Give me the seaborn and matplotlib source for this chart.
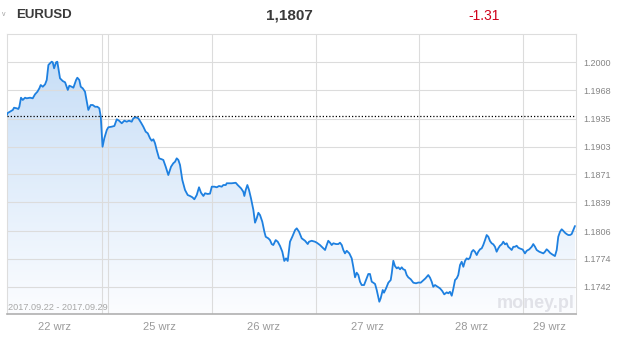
import numpy as np
import pandas as pd
import matplotlib
matplotlib.use("Agg")
import matplotlib.pyplot as plt
import seaborn as sns
from matplotlib.colors import LinearSegmentedColormap

# ---------------- data ----------------
# time in trading days on a compressed axis (22 Sep session ends at 1.0, weekend squeezed)
t = [0.086, 0.089, 0.115, 0.142, 0.154, 0.180, 0.195, 0.205, 0.221, 0.238, 0.260, 0.276,
     0.308, 0.334, 0.356, 0.379, 0.398, 0.411, 0.431, 0.453, 0.469, 0.485, 0.501, 0.517,
     0.527, 0.540, 0.559, 0.571, 0.581, 0.597, 0.623, 0.646, 0.672, 0.687, 0.710, 0.726,
     0.752, 0.764, 0.783, 0.797, 0.816, 0.838, 0.855, 0.870, 0.893, 0.913, 0.935, 0.957,
     0.976, 0.990, 1.007, 1.024, 1.048, 1.063, 1.096, 1.121, 1.144, 1.166, 1.192, 1.217,
     1.240, 1.262, 1.288, 1.304, 1.327, 1.352, 1.378, 1.400, 1.423, 1.443, 1.465, 1.481,
     1.497, 1.513, 1.529, 1.552, 1.578, 1.593, 1.616, 1.641, 1.667, 1.689, 1.706, 1.722,
     1.738, 1.754, 1.776, 1.802, 1.828, 1.850, 1.873, 1.892, 1.915, 1.937, 1.956, 1.979,
     1.995, 2.021, 2.043, 2.060, 2.085, 2.108, 2.130, 2.156, 2.171, 2.195, 2.204, 2.252,
     2.291, 2.310, 2.342, 2.364, 2.374, 2.387, 2.403, 2.419, 2.438, 2.461, 2.477, 2.493,
     2.509, 2.525, 2.547, 2.567, 2.580, 2.605, 2.621, 2.638, 2.653, 2.676, 2.696, 2.718,
     2.740, 2.759, 2.776, 2.792, 2.814, 2.836, 2.863, 2.879, 2.901, 2.927, 2.959, 2.985,
     2.997, 3.023, 3.055, 3.072, 3.103, 3.135, 3.152, 3.168, 3.183, 3.200, 3.216, 3.232,
     3.258, 3.280, 3.296, 3.313, 3.328, 3.344, 3.361, 3.386, 3.409, 3.424, 3.441, 3.457,
     3.473, 3.489, 3.505, 3.528, 3.547, 3.569, 3.585, 3.602, 3.617, 3.634, 3.650, 3.675,
     3.688, 3.708, 3.720, 3.740, 3.762, 3.785, 3.795, 3.810, 3.826, 3.843, 3.858, 3.875,
     3.891, 3.906, 3.923, 3.939, 3.954, 3.978, 4.003, 4.029, 4.051, 4.074, 4.099, 4.120,
     4.147, 4.164, 4.180, 4.195, 4.212, 4.238, 4.260, 4.282, 4.301, 4.325, 4.340, 4.356,
     4.373, 4.388, 4.405, 4.421, 4.436, 4.453, 4.469, 4.485, 4.501, 4.517, 4.533, 4.549,
     4.566, 4.581, 4.597, 4.614, 4.629, 4.646, 4.662, 4.677, 4.694, 4.710, 4.726, 4.742,
     4.758, 4.774, 4.790, 4.806, 4.822, 4.838, 4.855, 4.870, 4.887, 4.903, 4.918, 4.935,
     4.951, 4.967, 4.983, 4.999, 5.015, 5.031, 5.057, 5.079, 5.096, 5.121, 5.144, 5.159,
     5.176, 5.192, 5.217, 5.240, 5.256, 5.272, 5.288, 5.304, 5.320, 5.337, 5.352, 5.368,
     5.385, 5.400, 5.417, 5.433, 5.448, 5.465, 5.481, 5.497, 5.513, 5.529, 5.545, 5.561]

price = [1.19394, 1.19414, 1.19432, 1.19452, 1.19478, 1.19471, 1.19463, 1.19489, 1.19593, 1.19567, 1.19593, 1.19586,
         1.19593, 1.19586, 1.19632, 1.19662, 1.19701, 1.19739, 1.19719, 1.19747, 1.19797, 1.19969, 1.19989, 1.20007,
         1.20000, 1.19931, 1.20000, 1.20007, 1.19931, 1.19816, 1.19785, 1.19770, 1.19682, 1.19731, 1.19719, 1.19708,
         1.19797, 1.19823, 1.19797, 1.19719, 1.19701, 1.19662, 1.19547, 1.19452, 1.19509, 1.19509, 1.19489, 1.19489,
         1.19471, 1.19374, 1.19029, 1.19126, 1.19222, 1.19253, 1.19260, 1.19268, 1.19345, 1.19329, 1.19299, 1.19329,
         1.19317, 1.19329, 1.19317, 1.19356, 1.19368, 1.19356, 1.19306, 1.19260, 1.19202, 1.19184, 1.19126, 1.19098,
         1.19115, 1.19069, 1.18992, 1.18896, 1.18885, 1.18877, 1.18799, 1.18704, 1.18799, 1.18839, 1.18857, 1.18896,
         1.18877, 1.18819, 1.18647, 1.18532, 1.18474, 1.18463, 1.18448, 1.18425, 1.18474, 1.18563, 1.18501, 1.18463,
         1.18494, 1.18486, 1.18490, 1.18570, 1.18570, 1.18563, 1.18578, 1.18570, 1.18589, 1.18589, 1.18609, 1.18609,
         1.18615, 1.18589, 1.18551, 1.18512, 1.18463, 1.18532, 1.18589, 1.18532, 1.18436, 1.18302, 1.18156, 1.18206,
         1.18270, 1.18244, 1.18167, 1.18052, 1.17994, 1.17976, 1.17956, 1.17910, 1.17899, 1.17956, 1.17937, 1.17888,
         1.17822, 1.17716, 1.17746, 1.17716, 1.17937, 1.17994, 1.18071, 1.18091, 1.18052, 1.17976, 1.17948, 1.17910,
         1.17937, 1.17948, 1.17937, 1.17926, 1.17899, 1.17861, 1.17842, 1.17899, 1.17948, 1.17926, 1.17899, 1.17919,
         1.17910, 1.17910, 1.17926, 1.17899, 1.17842, 1.17803, 1.17833, 1.17803, 1.17746, 1.17649, 1.17528, 1.17581,
         1.17554, 1.17477, 1.17439, 1.17439, 1.17497, 1.17566, 1.17566, 1.17477, 1.17466, 1.17451, 1.17382, 1.17247,
         1.17286, 1.17382, 1.17351, 1.17401, 1.17466, 1.17497, 1.17574, 1.17718, 1.17657, 1.17631, 1.17643, 1.17620,
         1.17643, 1.17620, 1.17612, 1.17554, 1.17528, 1.17505, 1.17466, 1.17459, 1.17468, 1.17466, 1.17493, 1.17516,
         1.17554, 1.17523, 1.17477, 1.17419, 1.17439, 1.17419, 1.17401, 1.17370, 1.17332, 1.17355, 1.17344, 1.17362,
         1.17316, 1.17393, 1.17497, 1.17516, 1.17554, 1.17669, 1.17707, 1.17649, 1.17716, 1.17746, 1.17735, 1.17753,
         1.17822, 1.17842, 1.17822, 1.17784, 1.17822, 1.17850, 1.17861, 1.17899, 1.17956, 1.18014, 1.17994, 1.17945,
         1.17919, 1.17907, 1.17879, 1.17822, 1.17861, 1.17891, 1.17907, 1.17937, 1.17907, 1.17919, 1.17879, 1.17861,
         1.17842, 1.17879, 1.17879, 1.17891, 1.17868, 1.17859, 1.17847, 1.17803, 1.17833, 1.17850, 1.17879, 1.17910,
         1.17879, 1.17842, 1.17822, 1.17810, 1.17803, 1.17822, 1.17850, 1.17833, 1.17810, 1.17795, 1.17784, 1.17772,
         1.17842, 1.17994, 1.18052, 1.18080, 1.18063, 1.18040, 1.18025, 1.18014, 1.18014, 1.18025, 1.18071, 1.18118]

prev_close = 1.19386
y_tick_labels = ["1.2000", "1.1968", "1.1935", "1.1903", "1.1871",
                 "1.1839", "1.1806", "1.1774", "1.1742"]
day_labels = ["22 wrz", "25 wrz", "26 wrz", "27 wrz", "28 wrz", "29 wrz"]
day_bounds = [1.0, 1.06, 2.06, 3.06, 4.06, 5.06]
x_range = [0.086, 5.571]
y_range = [1.17106, 1.20322]
symbol = "EURUSD"
last_quote = "1,1807"
change = "-1.31"
period_text = "2017.09.22 - 2017.09.29"

# ---------------- figure ----------------
sns.set_style("white")
plt.rcParams["font.family"] = ["Liberation Sans", "DejaVu Sans"]

W, H = 618, 337
fig = plt.figure(figsize=(W / 100, H / 100), dpi=100)
fig.patch.set_facecolor("white")
ax = fig.add_axes([7 / W, (H - 314) / H, (576 - 7) / W, (314 - 34.3) / H])

df = pd.DataFrame({"t": t, "price": price})

# gradient area under the line
poly = ax.fill_between(df["t"], df["price"], y_range[0], facecolor="none", edgecolor="none")
grad = np.linspace(0, 1, 256).reshape(-1, 1)
cmap = LinearSegmentedColormap.from_list("g", ["#c2dbf6", "#fcfdff"])
im = ax.imshow(grad, extent=[x_range[0], x_range[1], y_range[0], y_range[1]],
               aspect="auto", cmap=cmap, origin="upper", zorder=0.3,
               interpolation="bilinear")
im.set_clip_path(poly.get_paths()[0], transform=ax.transData)

sns.lineplot(data=df, x="t", y="price", ax=ax, color="#1e80e0", linewidth=1.3,
             zorder=4, legend=False)
ax.axhline(prev_close, color="black", linewidth=0.9, linestyle=(0, (1, 1.6)), zorder=5)

ax.set_xlim(*x_range)
ax.set_ylim(*y_range)
ax.set_xlabel("")
ax.set_ylabel("")

# grid & ticks
ax.set_axisbelow(True)
ax.set_yticks([float(s) for s in y_tick_labels])
ax.set_yticklabels(y_tick_labels)
ax.yaxis.tick_right()
ax.set_xticks(day_bounds)
ax.set_xticklabels([""] * len(day_bounds))
segs = [x_range[0]] + day_bounds[1:] + [x_range[1]]
centers = [(x_range[0] + day_bounds[0]) / 2] + \
          [(day_bounds[i] + day_bounds[i + 1]) / 2 for i in range(1, len(day_bounds) - 1)] + \
          [(day_bounds[-1] + x_range[1]) / 2]
ax.set_xticks(centers, minor=True)
ax.set_xticklabels(day_labels, minor=True)
ax.grid(True, which="major", color="#dcdcdc", linewidth=0.8)
ax.grid(False, which="minor")
ax.tick_params(axis="both", which="both", length=0)
ax.tick_params(axis="y", pad=5, labelsize=6.5, labelcolor="#858585")
ax.tick_params(axis="x", which="minor", pad=6, labelsize=8, labelcolor="#9a9a9a")

for s in ["left", "top", "right"]:
    ax.spines[s].set_color("#dddddd")
    ax.spines[s].set_linewidth(0.8)
ax.spines["bottom"].set_color("#b0b0b0")
ax.spines["bottom"].set_linewidth(1.2)

# header texts
ty = 1 - 15.5 / H
fig.text(4 / W, 1 - 14 / H, "v", fontsize=5, color="#a0a0a0", ha="center", va="center")
fig.text(16 / W, ty, symbol, fontsize=9.5, fontweight="bold", color="#3a3a3a",
         ha="left", va="center")
fig.text(289 / W, ty, last_quote, fontsize=11, fontweight="bold", color="#3a3a3a",
         ha="center", va="center")
fig.text(484 / W, ty, change, fontsize=10, color="#d0021b", ha="center", va="center")

# footer texts inside plot
fig.text(8 / W, 1 - 307.7 / H, period_text, fontsize=6.6, color="#a8a8a8",
         ha="left", va="center")
fig.text(575 / W, 1 - 304 / H, "money.pl", fontsize=13, fontweight="bold",
         color="#e1e2e8", ha="right", va="center", zorder=1)

fig.savefig("out.png", dpi=100)
